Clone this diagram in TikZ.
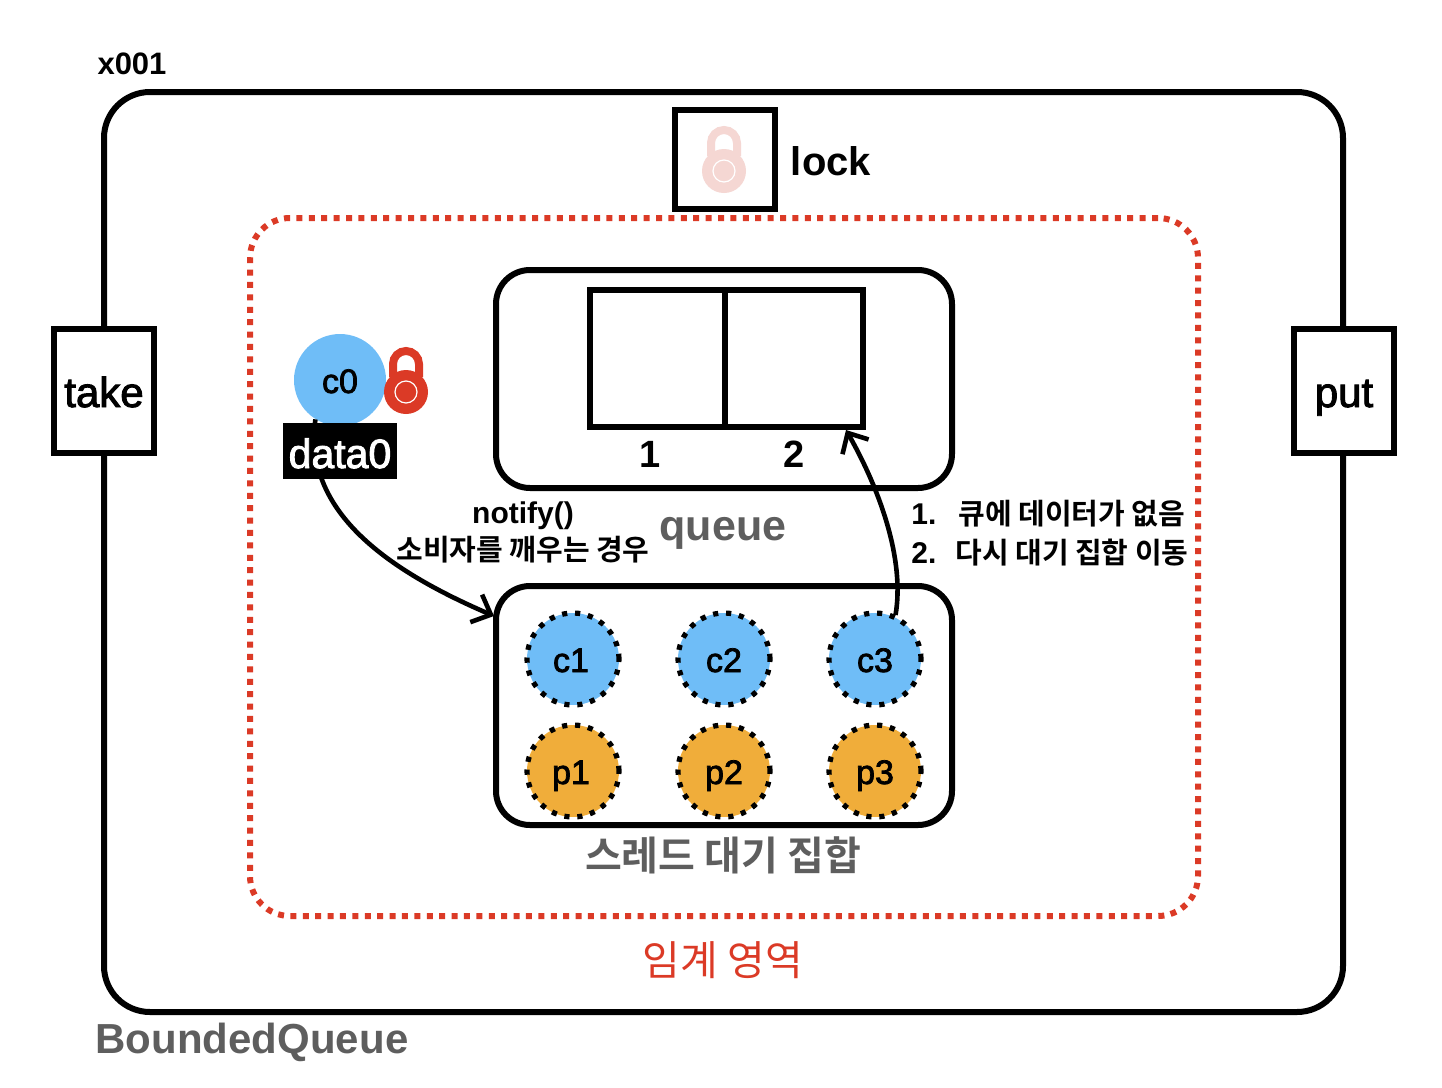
\documentclass[tikz,border=0pt]{standalone}
\usepackage{fontspec}
\usetikzlibrary{arrows.meta}
\setmainfont{Liberation Sans}
\newfontfamily\medf[FakeBold=2.2]{Liberation Sans}
\newfontfamily\krb{Noto Sans CJK KR}[BoldFont={Noto Sans CJK KR Bold}]
\definecolor{cblue}{HTML}{6FBDF7}
\definecolor{corange}{HTML}{F0AD3A}
\definecolor{cred}{HTML}{DB3A26}
\definecolor{cpink}{HTML}{F5D7D3}
\definecolor{cgray}{HTML}{5E5E5E}
\tikzset{
  box/.style={draw=black,line width=3pt,inner sep=0pt,fill=white},
  roundbox/.style={box,rounded corners=17pt,fill=none},
  thread/.style={circle,inner sep=0pt,minimum size=46pt,text height=13pt,text depth=0pt,font=\medf\fontsize{17}{20}\selectfont},
  waiting/.style={thread,draw=black,line width=2.6pt,dash pattern=on 2.6pt off 3.9pt},
  conn/.style={line width=2.3pt,-{Straight Barb[length=8pt,width=15pt,line width=2.3pt]}},
  lbl/.style={inner sep=0pt,text height=20pt,text depth=4pt,font=\medf\fontsize{21}{25}\selectfont},
}
\newcommand{\padlock}[3]{%
  \begin{scope}[shift={(#1,#2)}]
    \draw[#3,line width=4pt] (-13,-15) -- (-13,-28) arc[start angle=180,end angle=0,radius=6.5pt] -- (13,-15);
    \fill[#3] (0,0) circle[radius=11pt];
    \draw[white,line width=0.6pt] (0,0) circle[radius=5.5pt];
  \end{scope}}
\begin{document}
\begin{tikzpicture}[x=0.5pt,y=-0.5pt]
\useasboundingbox (0,0) rectangle (1442,1088);
% outer object
\node[box,fill=none,rounded corners=23pt,minimum width=619.5pt,minimum height=460pt] (outer) at (723.5,552) {};
\node[inner sep=0pt,font=\bfseries\fontsize{15.5}{18}\selectfont] (addr) at (132,64) {x001};
\node[inner sep=0pt,text=cgray,font=\bfseries\fontsize{21}{25}\selectfont] (name) at (252,1042) {BoundedQueue};
% critical section
\node[draw=cred,line width=3pt,dash pattern=on 3pt off 3.2pt,rounded corners=20pt,inner sep=0pt,minimum width=474pt,minimum height=349pt] (critical) at (724,567) {};
\node[inner sep=0pt,text=cred,font=\krb\fontsize{20.5}{24}\selectfont] (criticallabel) at (723,960) {임계 영역};
% methods
\node[box,lbl,minimum width=50pt,minimum height=62pt] (take) at (104,391) {take};
\node[box,lbl,minimum width=50pt,minimum height=62pt] (put) at (1344,391) {put};
% lock
\node[box,minimum width=50pt,minimum height=49.5pt] (lockbox) at (725,159.5) {};
\padlock{724}{171}{cpink}
\node[inner sep=0pt,font=\bfseries\fontsize{20}{24}\selectfont] (locklabel) at (831,161) {lock};
% queue
\node[roundbox,minimum width=228pt,minimum height=109pt] (queue) at (724,379) {};
\node[box,minimum width=67.5pt,minimum height=68.5pt] (cell1) at (657.5,358.5) {};
\node[box,minimum width=69pt,minimum height=68.5pt] (cell2) at (794,358.5) {};
\node[inner sep=0pt,font=\bfseries\fontsize{19}{23}\selectfont] (n1) at (650,454) {1};
\node[inner sep=0pt,font=\bfseries\fontsize{19}{23}\selectfont] (n2) at (794,454) {2};
\node[inner sep=0pt,text=cgray,font=\bfseries\fontsize{21.5}{25}\selectfont] (queuelabel) at (723,533) {queue};
% wait set
\node[roundbox,minimum width=228pt,minimum height=119.5pt] (waitset) at (724,705.5) {};
\node[inner sep=0pt,text=cgray,font=\krb\bfseries\fontsize{20}{24}\selectfont] (waitlabel) at (723,855) {스레드 대기 집합};
\node[waiting,fill=cblue] (c1) at (573,659) {\hspace*{-2pt}c1};
\node[waiting,fill=cblue] (c2) at (724,659) {c2};
\node[waiting,fill=cblue] (c3) at (875,659) {c3};
\node[waiting,fill=corange] (p1) at (573,771) {\hspace*{-2pt}p1};
\node[waiting,fill=corange] (p2) at (724,771) {p2};
\node[waiting,fill=corange] (p3) at (875,771) {p3};
% connectors
\node[thread,fill=cblue] (c0) at (340,380) {c0};
\coordinate (notifyend) at (494,616);
\coordinate (cellend) at (846,430);
\draw[conn] (c0.238) .. controls (304,505) and (375,565) .. (notifyend);
\draw[conn] (c3.65) .. controls (905,560) and (880,490) .. (cellend);
% current thread
\padlock{406}{392}{cred}
\node[fill=black,text=white,inner sep=0pt,minimum width=57pt,minimum height=28pt,text height=17pt,text depth=0pt,font=\fontsize{20.5}{24}\selectfont\medf] (data0) at (340,451) {data0};
% labels
\node[inner sep=0pt,font=\bfseries\fontsize{15}{18}\selectfont] (notify) at (523,516) {notify()};
\node[inner sep=0pt,font=\krb\bfseries\fontsize{14.5}{18}\selectfont] (wake) at (523,550) {소비자를 깨우는 경우};
\node[inner sep=0pt,anchor=west,font=\bfseries\fontsize{15}{18}\selectfont] (r1n) at (911,514) {1.};
\node[inner sep=0pt,anchor=west,font=\krb\bfseries\fontsize{14.5}{18}\selectfont] (r1) at (958,514) {큐에 데이터가 없음};
\node[inner sep=0pt,anchor=west,font=\bfseries\fontsize{15}{18}\selectfont] (r2n) at (911,553) {2.};
\node[inner sep=0pt,anchor=west,font=\krb\bfseries\fontsize{14.5}{18}\selectfont] (r2) at (955,553) {다시 대기 집합 이동};
\end{tikzpicture}
\end{document}
